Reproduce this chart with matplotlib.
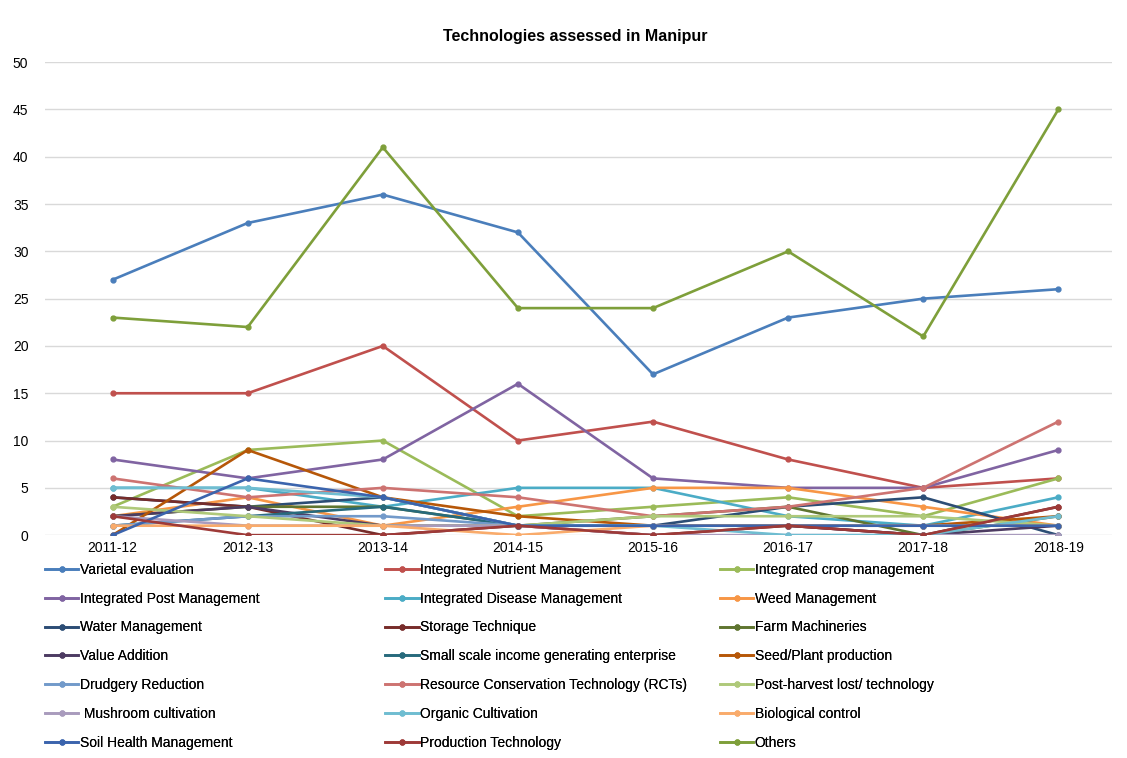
import matplotlib
matplotlib.use("Agg")
import matplotlib.pyplot as plt

plt.rcParams['font.family'] = ['Liberation Sans', 'DejaVu Sans']

years = ['2011-12', '2012-13', '2013-14', '2014-15', '2015-16', '2016-17', '2017-18', '2018-19']

names = [
    'Varietal evaluation', 'Integrated Nutrient Management', 'Integrated crop management',
    'Integrated Post Management', 'Integrated Disease Management', 'Weed Management',
    'Water Management', 'Storage Technique', 'Farm Machineries',
    'Value Addition', 'Small scale income generating enterprise', 'Seed/Plant production',
    'Drudgery Reduction', 'Resource Conservation Technology (RCTs)', 'Post-harvest lost/ technology',
    ' Mushroom cultivation', 'Organic Cultivation', 'Biological control',
    'Soil Health Management', 'Production Technology', 'Others',
]

varietal = [27, 33, 36, 32, 17, 23, 25, 26]
inm = [15, 15, 20, 10, 12, 8, 5, 6]
icm = [3, 9, 10, 2, 3, 4, 2, 6]
ipm = [8, 6, 8, 16, 6, 5, 5, 9]
idm = [5, 5, 3, 5, 5, 2, 1, 4]
weed = [2, 4, 1, 3, 5, 5, 3, 1]
water = [4, 3, 4, 1, 1, 3, 4, 0]
storage = [4, 3, 0, 1, 0, 1, 0, 3]
farm = [2, 3, 3, 1, 2, 3, 0, 2]
value_add = [2, 3, 1, 1, 1, 1, 0, 1]
small_scale = [1, 2, 3, 1, 1, 1, 1, 1]
seed = [0, 9, 4, 2, 1, 1, 1, 2]
drudgery = [1, 2, 2, 1, 1, 1, 1, 1]
rct = [6, 4, 5, 4, 2, 3, 5, 12]
post_harvest = [3, 2, 1, 1, 2, 2, 2, 1]
mushroom = [2, 1, 1, 1, 0, 0, 0, 0]
organic = [5, 5, 4, 1, 1, 0, 0, 2]
biological = [1, 1, 1, 0, 1, 1, 1, 1]
soil = [0, 6, 4, 1, 1, 1, 1, 1]
production = [2, 0, 0, 1, 0, 1, 0, 3]
others = [23, 22, 41, 24, 24, 30, 21, 45]

series = [varietal, inm, icm, ipm, idm, weed, water, storage, farm, value_add, small_scale,
          seed, drudgery, rct, post_harvest, mushroom, organic, biological, soil, production, others]

colors = ['#4A7EBB', '#C0504D', '#9BBB59', '#8064A2', '#4BACC6', '#F79646',
          '#2C4D75', '#772C2A', '#5F7530', '#4D3B62', '#276A7C', '#B65708',
          '#729ACA', '#CD7371', '#AFC97A', '#A99BBD', '#6FBDD1', '#F9AB6B',
          '#3B64AD', '#9E3A38', '#7E9F3A']

fig = plt.figure(figsize=(11.27, 7.58), dpi=100)
ax = fig.add_axes([0.040, 0.294, 0.947, 0.624])

x = list(range(len(years)))
handles = []
for vals, name, c in zip(series, names, colors):
    h, = ax.plot(x, vals, color=c, lw=1.9, marker='o', markersize=3.5, label=name)
    handles.append(h)

ax.set_xlim(-0.5, 7.4)
ax.set_ylim(0, 50)
ax.set_yticks(range(0, 51, 5))
ax.set_xticks(x)
ax.set_xticklabels(years, fontsize=10)
ax.tick_params(axis='y', labelsize=10, length=0, pad=12)
ax.tick_params(axis='x', length=0, pad=4)
ax.grid(axis='y', color='#d9d9d9', lw=1)
ax.set_axisbelow(True)
for s in ax.spines.values():
    s.set_visible(False)

fig.text(0.51, 0.952, 'Technologies assessed in Manipur', ha='center', va='center',
         fontsize=11.5, fontweight='bold')

# three legend columns, filled row by row like the original
col_x = [0.035, 0.337, 0.634]
for c in range(3):
    hs = handles[c::3]
    leg = fig.legend(handles=hs, labels=[h.get_label() for h in hs],
                     loc='upper left', bbox_to_anchor=(col_x[c], 0.265),
                     frameon=False, fontsize=10, labelspacing=1.07,
                     handlelength=2.4, handletextpad=0.1, borderaxespad=0)
    fig.add_artist(leg)

fig.savefig('out.png', dpi=100)
